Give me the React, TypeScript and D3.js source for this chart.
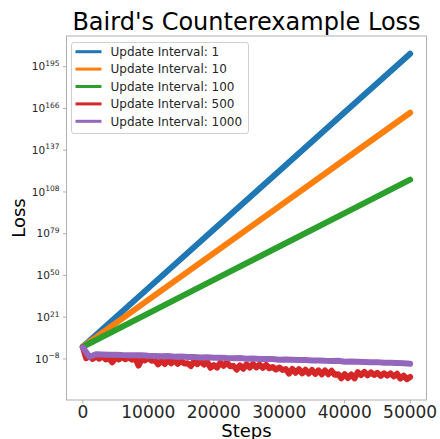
import React from "react";
import * as d3 from "d3";

const TITLE = "Baird's Counterexample Loss";
const X_LABEL = "Steps";
const Y_LABEL = "Loss";

const xTicks = [0, 10000, 20000, 30000, 40000, 50000];
const yTickExponents = [-8, 21, 50, 79, 108, 137, 166, 195];

const seriesNames = [
  "Update Interval: 1",
  "Update Interval: 10",
  "Update Interval: 100",
  "Update Interval: 500",
  "Update Interval: 1000",
];
const seriesColors = ["#1f77b4", "#ff7f0e", "#2ca02c", "#d62728", "#9467bd"];

// log10(loss) values
const stepsCoarse = [0, 10000, 20000, 30000, 40000, 50000];
const interval1 = [0.5, 41.2, 81.9, 122.6, 163.3, 204.0];
const interval10 = [0.5, 33.0, 65.5, 98.0, 130.5, 163.0];
const interval100 = [0.5, 23.7, 46.9, 70.1, 93.3, 116.5];

// every 500 steps
const interval500 = [
  0.0, -7.5, -6.0, -8.0, -6.2, -7.8, -6.1, -8.3, -7.5, -10.3,
  -7.0, -8.4, -6.5, -8.2, -6.8, -8.5, -7.4, -12.6, -8.0, -9.0,
  -7.3, -9.2, -8.9, -11.8, -9.1, -11.5, -8.8, -11.0, -9.0, -11.4,
  -9.3, -11.2, -11.0, -12.9, -9.6, -11.6, -9.4, -11.9, -10.0, -14.1,
  -12.2, -14.0, -10.6, -12.7, -10.5, -13.0, -12.8, -15.4, -12.4, -14.8,
  -11.8, -14.0, -11.5, -13.9, -11.9, -14.2, -12.1, -14.5, -13.6, -15.3,
  -13.9, -15.6, -15.0, -18.2, -14.9, -17.6, -15.1, -18.0, -15.5, -18.1,
  -15.7, -18.4, -15.9, -18.7, -16.0, -18.6, -16.2, -19.0, -18.6, -21.4,
  -18.5, -21.2, -18.8, -21.5, -17.2, -19.2, -17.0, -19.4, -17.3, -19.1,
  -17.6, -19.8, -17.9, -19.6, -18.0, -20.1, -18.3, -21.6, -19.6, -22.0,
  -20.5,
];

// every 1000 steps
const interval1000 = [
  0.0, -6.5, -4.8, -4.9, -5.1, -5.0, -5.3, -5.4, -5.5, -5.4,
  -5.8, -5.9, -6.1, -6.0, -6.4, -6.3, -6.6, -6.7, -6.9, -6.8,
  -7.2, -7.1, -7.4, -7.5, -7.4, -7.8, -7.7, -8.0, -8.1, -8.0,
  -8.5, -8.4, -8.6, -8.8, -8.7, -9.1, -9.0, -9.3, -9.4, -9.3,
  -9.9, -9.8, -10.0, -10.1, -10.3, -10.2, -10.6, -10.7, -10.8, -11.0,
  -11.3,
];

const W = 440;
const H = 439;
const left = 66.5;
const right = 426.5;
const top = 36;
const bottom = 400;
const FONT = "DejaVu Sans, sans-serif";

export default function App() {
  const x = d3.scaleLinear().domain([-2500, 52500]).range([left, right]);
  const y = d3
    .scaleLog()
    .base(10)
    .domain([Math.pow(10, -36.5), Math.pow(10, 216.3)])
    .range([bottom, top]);

  const steps500 = interval500.map((_, i) => i * 500);
  const steps1000 = interval1000.map((_, i) => i * 1000);

  const series = [
    { steps: stepsCoarse, vals: interval1 },
    { steps: stepsCoarse, vals: interval10 },
    { steps: stepsCoarse, vals: interval100 },
    { steps: steps500, vals: interval500 },
    { steps: steps1000, vals: interval1000 },
  ];

  const line = d3
    .line<[number, number]>()
    .x((d) => x(d[0]))
    .y((d) => y(Math.pow(10, d[1])));

  const legX = 71.5;
  const legY = 42.5;
  const rowH = 17.4;

  return (
    <svg
      width={W}
      height={H}
      style={{ position: "absolute", left: 0, top: 0, background: "#fff" }}
      fontFamily={FONT}
    >
      <rect x={0} y={0} width={W} height={H} fill="#fff" />
      <text x={(left + right) / 2} y={30} fontSize={24} textAnchor="middle" fill="#000">
        {TITLE}
      </text>

      <g clipPath="url(#clip)">
        <defs>
          <clipPath id="clip">
            <rect x={left} y={top} width={right - left} height={bottom - top} />
          </clipPath>
        </defs>
        {series.map((s, i) => (
          <path
            key={i}
            d={line(s.steps.map((st, j) => [st, s.vals[j]] as [number, number])) || ""}
            fill="none"
            stroke={seriesColors[i]}
            strokeWidth={6}
            strokeLinecap="round"
            strokeLinejoin="round"
          />
        ))}
      </g>

      <rect
        x={left}
        y={top}
        width={right - left}
        height={bottom - top}
        fill="none"
        stroke="#b0b0b0"
        strokeWidth={1}
      />

      {xTicks.map((t) => (
        <g key={t}>
          <line x1={x(t)} x2={x(t)} y1={bottom} y2={bottom + 3.5} stroke="#b0b0b0" />
          <text x={x(t)} y={418} fontSize={17} textAnchor="middle" fill="#262626">
            {t}
          </text>
        </g>
      ))}

      {yTickExponents.map((e) => {
        const yy = y(Math.pow(10, e));
        const sup = e < 0 ? "\u2212" + Math.abs(e) : String(e);
        return (
          <g key={e}>
            <line x1={left - 3.5} x2={left} y1={yy} y2={yy} stroke="#b0b0b0" />
            <text x={59.5} y={yy + 3.8} fontSize={10.5} textAnchor="end" fill="#262626">
              10
              <tspan fontSize={7.5} dy={-4.5}>
                {sup}
              </tspan>
            </text>
          </g>
        );
      })}

      <text
        transform={`translate(24.5,${(top + bottom) / 2}) rotate(-90)`}
        fontSize={18}
        textAnchor="middle"
        fill="#000"
      >
        {Y_LABEL}
      </text>
      <text x={(left + right) / 2} y={437} fontSize={18} textAnchor="middle" fill="#000">
        {X_LABEL}
      </text>

      <rect
        x={legX}
        y={legY}
        width={177}
        height={91}
        rx={2.5}
        fill="#fff"
        fillOpacity={0.8}
        stroke="#d0d0d0"
        strokeWidth={1}
      />
      {seriesNames.map((n, i) => {
        const cy = 51.7 + i * rowH;
        return (
          <g key={n}>
            <line x1={75.5} x2={101.5} y1={cy} y2={cy} stroke={seriesColors[i]} strokeWidth={3} />
            <text x={110.5} y={cy + 4.3} fontSize={12} fill="#262626">
              {n}
            </text>
          </g>
        );
      })}
    </svg>
  );
}
